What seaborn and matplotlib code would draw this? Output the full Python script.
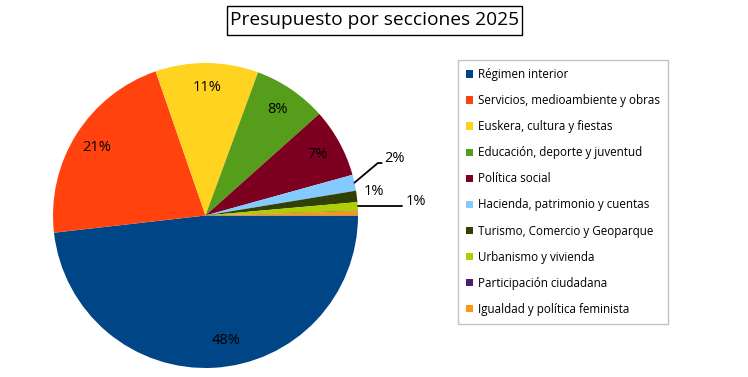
import numpy as np
import matplotlib
matplotlib.use('Agg')
import matplotlib.pyplot as plt
from matplotlib.patches import Rectangle
import seaborn as sns

# Datos del gráfico
secciones = ['Régimen interior', 'Servicios, medioambiente y obras', 'Euskera, cultura y fiestas',
             'Educación, deporte y juventud', 'Política social', 'Hacienda, patrimonio y cuentas',
             'Turismo, Comercio y Geoparque', 'Urbanismo y vivienda', 'Participación ciudadana',
             'Igualdad y política feminista']
porcentajes = [48.2, 21.5, 10.9, 7.8, 7.3, 1.7, 1.2, 0.9, 0.05, 0.45]
etiquetas = ['48%', '21%', '11%', '8%', '7%', '2%', '1%', '1%', '', '']
colores = ['#004586', '#FF420E', '#FFD320', '#579D1C', '#7E0021',
           '#83CAFF', '#314004', '#AECF00', '#4B1F6F', '#FF950E']

sns.set_style('white')
plt.rcParams['font.family'] = ['Open Sans', 'DejaVu Sans']
plt.rcParams['text.color'] = 'black'

fig = plt.figure(figsize=(7.48, 3.77), dpi=100)
W, H = 748, 377
cx, cy, r = 205.5, 215.5, 152.5  # centro y radio en píxeles
ax = fig.add_axes([(cx - r) / W, (H - cy - r) / H, 2 * r / W, 2 * r / H])

wedges, _ = ax.pie(porcentajes, colors=sns.color_palette(colores), startangle=0,
                   counterclock=False, radius=1,
                   wedgeprops=dict(linewidth=0))
ax.set_xlim(-1, 1)
ax.set_ylim(-1, 1)
ax.axis('off')

# Etiquetas de porcentaje
for i, w in enumerate(wedges):
    ang = np.deg2rad((w.theta1 + w.theta2) / 2)
    ca, sa = np.cos(ang), np.sin(ang)
    if i == 0:
        # la etiqueta grande está algo desplazada a la derecha
        ax.text(0.84 * ca + 0.09, 0.84 * sa + 0.02, etiquetas[i], ha='center', va='center',
                fontsize=10.5, color='black')
    elif i < 5:
        ax.text(0.84 * ca, 0.84 * sa, etiquetas[i], ha='center', va='center', fontsize=10.5,
                color='black')
    elif i == 5:
        # línea de guía con codo
        ax.plot([ca, 1.13, 1.155], [sa, 0.344, 0.344], color='black', lw=1.3, clip_on=False)
        ax.text(1.17, 0.375, etiquetas[i], ha='left', va='center', fontsize=10.5, color='black')
    elif i == 6:
        ax.text(1.11 * ca, 1.11 * sa + 0.02, etiquetas[i], ha='center', va='center',
                fontsize=10.5, color='black')
    elif i == 7:
        ax.plot([ca, 1.29], [sa, sa], color='black', lw=1.3, clip_on=False)
        ax.text(1.31, sa + 0.03, etiquetas[i], ha='left', va='center', fontsize=10.5,
                color='black')

# Título con recuadro (recuadro a medida alrededor del texto)
titulo = fig.text(0.501, 0.947, 'Presupuesto por secciones 2025', ha='center', va='center',
                  fontsize=13.8, color='black')
fig.canvas.draw()
bb = titulo.get_window_extent()
fig.patches.append(Rectangle((bb.x0 - 3, bb.y0 - 6), bb.width + 6, bb.height + 11,
                             transform=None, fill=False, ec='black', lw=1))

# Leyenda
leg = fig.legend(wedges, secciones, loc='upper left', bbox_to_anchor=(458 / W, 1 - 60 / H),
                 fontsize=8.4, frameon=True, fancybox=False, handlelength=0.6, handleheight=0.6,
                 handletextpad=0.4, labelspacing=1.12, borderpad=0.7, borderaxespad=0)
leg.get_frame().set_edgecolor('#b3b3b3')
leg.get_frame().set_linewidth(1)

fig.savefig('out.png', dpi=100)
